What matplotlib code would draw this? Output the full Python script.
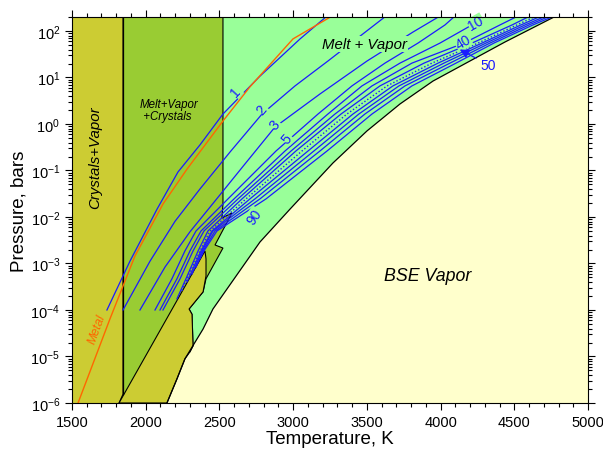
import matplotlib
matplotlib.use('Agg')
import matplotlib.pyplot as plt
from matplotlib.ticker import MultipleLocator, LogLocator, NullFormatter

plt.rcParams['font.family'] = ['Liberation Sans', 'DejaVu Sans']
plt.rcParams['mathtext.default'] = 'regular'

# phase field outlines (T in K, P in bar)
vap_T = [2144, 2212, 2266, 2389, 2456, 2775, 2979, 3270, 3501, 3725, 3949, 4437, 4783]
vap_P = [1e-6, 3.3e-6, 8.9e-6, 3.9e-5, 1.05e-4, 2.9e-3, 0.0148, 0.145, 0.71, 2.7, 8.4, 58, 210]

solidus_T = 1846  # vertical crystals / melt boundary

mvc_T = [1846, 2524, 2524, 2517, 2585, 2470, 2524, 2409, 2389, 2294, 2314, 2321, 2300, 1819, 1846]
mvc_P = [300, 300, 0.019, 0.0095, 0.0122, 2.5e-3, 2.15e-3, 4.7e-4, 2.45e-4, 1.05e-4, 8.1e-5, 1.7e-5, 1.26e-5, 1e-6, 1.55e-6]

blob_T = [1819, 2402, 2409, 2409, 2389, 2294, 2314, 2321, 2300, 2266, 2212, 2144]
blob_P = [1e-6, 1.86e-3, 1.26e-3, 5.4e-4, 2.45e-4, 1.05e-4, 8.1e-5, 1.7e-5, 1.26e-5, 8.9e-6, 3.3e-6, 1e-6]

metal_T = [1541, 1758, 1927, 2117, 2280, 2524, 2707, 2999, 3264]
metal_P = [1e-6, 6.5e-5, 1.45e-3, 0.019, 0.107, 1.16, 6.3, 67.6, 210]

# percent-vaporized contours
rows = [1e-4, 4.7e-4, 1.86e-3, 5.0e-3, 0.0245, 0.263, 1.64, 6.6, 20.4, 55, 135, 210]
c1_T = [1737, 1893, 2077, 2219, 2368, 2524, 2775, 3047, 3230]
c1_P = [1e-4, 1.12e-3, 0.0148, 0.093, 0.355, 1.64, 10.7, 67.6, 210]
c2_T = [1846, 2029, 2199, 2368, 2572, 2789, 3013, 3236, 3420, 3630]
c2_P = [1e-4, 1.12e-3, 8.1e-3, 0.040, 0.25, 1.64, 6.6, 22.6, 64, 210]
c3_T = [1961, 2131, 2300, 2470, 2673, 2877, 3182, 3501, 3813, 3996]
c3_P = [1e-4, 8.4e-4, 4.8e-3, 0.0221, 0.138, 0.861, 4.42, 22.6, 95, 210]
c5_T = [2063, 2178, 2266, 2341, 2558, 2884, 3169, 3399, 3623, 3847, 4030, 4098]
c10_T = [2097, 2212, 2300, 2375, 2599, 2945, 3236, 3467, 3725, 3996, 4213, 4301]
c40_T = [2117, 2233, 2321, 2395, 2626, 2986, 3284, 3535, 3806, 4159, 4403, 4525]
c45_T = [2212, 2273, 2355, 2422, 2653, 3019, 3325, 3589, 3888, 4213, 4485, 4607]
c45_P = [1.74e-4] + rows[1:]
c50_T = [2246, 2280, 2368, 2436, 2680, 3060, 3365, 3637, 3942, 4254, 4518, 4648]
c50_P = [2.6e-4] + rows[1:]
c60_T = [2280, 2375, 2450, 2707, 3101, 3406, 3677, 3983, 4281, 4545, 4682]
c60_P = [4.0e-4] + rows[2:]
c70_T = [2314, 2382, 2456, 2741, 3141, 3446, 3718, 4023, 4308, 4573, 4715]
c70_P = [5.9e-4] + rows[2:]
c80_T = [2341, 2389, 2470, 2775, 3182, 3487, 3759, 4064, 4335, 4600, 4742]
c80_P = [8.3e-4] + rows[2:]
c90_T = [2368, 2395, 2483, 2816, 3230, 3535, 3806, 4105, 4362, 4627, 4770]
c90_P = [1.26e-3] + rows[2:]

solid_lines = [(c1_T, c1_P), (c2_T, c2_P), (c3_T, c3_P), (c5_T, rows), (c10_T, rows),
               (c40_T, rows), (c45_T, c45_P), (c60_T, c60_P), (c70_T, c70_P),
               (c80_T, c80_P), (c90_T, c90_P)]

# labels: text, T, P, rotation
labels = [('1', 2612, 5.1, 48), ('2', 2789, 2.1, 50), ('3', 2877, 1.0, 50), ('5', 2958, 0.50, 50),
          ('10', 4240, 150, 30), ('40', 4152, 58, 30), ('90', 2735, 0.0105, 55)]

c_olive = '#CCCC33'
c_mvc = '#99CC33'
c_melt = '#99FF99'
c_vap = '#FFFFCC'
blue = '#1A1AFF'

fig = plt.figure(figsize=(6.03, 4.52), dpi=100)
ax = fig.add_axes([72/603, 1-404/452, 516/603, 386/452])
ax.set_yscale('log')
ax.set_xlim(1500, 5000)
ax.set_ylim(1e-6, 200)
ax.set_facecolor(c_vap)

ax.fill(vap_T + [4783, 1500, 1500], vap_P + [300, 300, 1e-6], color=c_melt, lw=0, zorder=1)
ax.fill([1500, solidus_T, solidus_T, 1500], [1e-7, 1e-7, 300, 300], color=c_olive, lw=0, zorder=1)
ax.fill(mvc_T, mvc_P, facecolor=c_mvc, edgecolor='black', lw=0.8, zorder=1.2)
ax.fill(blob_T, blob_P, facecolor=c_olive, edgecolor='black', lw=0.8, zorder=1.3)
ax.plot(vap_T, vap_P, color='black', lw=0.9, zorder=1.4)
ax.plot([solidus_T, solidus_T], [1.55e-6, 300], color='black', lw=0.9, zorder=1.4)

for T, P in solid_lines:
    ax.plot(T, P, color=blue, lw=0.9, zorder=3)
ax.plot(c50_T, c50_P, color=blue, lw=1.0, ls=(0, (1, 1.5)), zorder=3)
ax.plot(metal_T, metal_P, color='#FF6600', lw=1.0, zorder=3.5)

for txt, T, P, rot in labels:
    ax.text(T, P, txt, color=blue, fontsize=10, rotation=rot, ha='center', va='center', zorder=4,
            bbox=dict(fc=c_melt, ec='none', pad=0.3))
ax.annotate('50', xy=(4130, 40), xytext=(4320, 19), color=blue, fontsize=10, va='center', ha='center',
            zorder=4, arrowprops=dict(arrowstyle='-|>,head_length=0.6,head_width=0.3', color=blue,
                                      lw=0.9, mutation_scale=9, shrinkA=1, shrinkB=0))

ax.text(1656, 0.2, 'Crystals+Vapor', rotation=90, style='italic', fontsize=10.8, ha='center', va='center', zorder=4)
ax.text(1961, 2.0, 'Melt+Vapor\n +Crystals', style='italic', fontsize=8.3, ha='left', va='center',
        linespacing=1.1, zorder=4)
ax.text(3487, 52, 'Melt + Vapor', style='italic', fontsize=10.8, ha='center', va='center', zorder=4,
        bbox=dict(fc=c_melt, ec='none', pad=0.5))
ax.text(3915, 5.4e-4, 'BSE Vapor', style='italic', fontsize=12.8, ha='center', va='center', zorder=4)
ax.text(1672, 3.9e-5, 'Metal', style='italic', fontsize=9, color='#FF6600', rotation=70,
        ha='center', va='center', zorder=4)

ax.xaxis.set_major_locator(MultipleLocator(500))
ax.xaxis.set_minor_locator(MultipleLocator(100))
ax.yaxis.set_major_locator(LogLocator(base=10, numticks=20))
ax.yaxis.set_minor_locator(LogLocator(base=10, subs=range(2, 10), numticks=20))
ax.yaxis.set_minor_formatter(NullFormatter())
ax.tick_params(which='both', direction='out', top=True, right=True, labelsize=10.5, width=0.8)
ax.tick_params(which='major', length=5)
ax.tick_params(which='minor', length=3)
for s in ax.spines.values():
    s.set_linewidth(0.8)
    s.set_zorder(5)

ax.set_xlabel('Temperature, K', fontsize=13.5, labelpad=1)
ax.set_ylabel('Pressure, bars', fontsize=13.5, labelpad=2)

fig.savefig('out.png', dpi=100)
